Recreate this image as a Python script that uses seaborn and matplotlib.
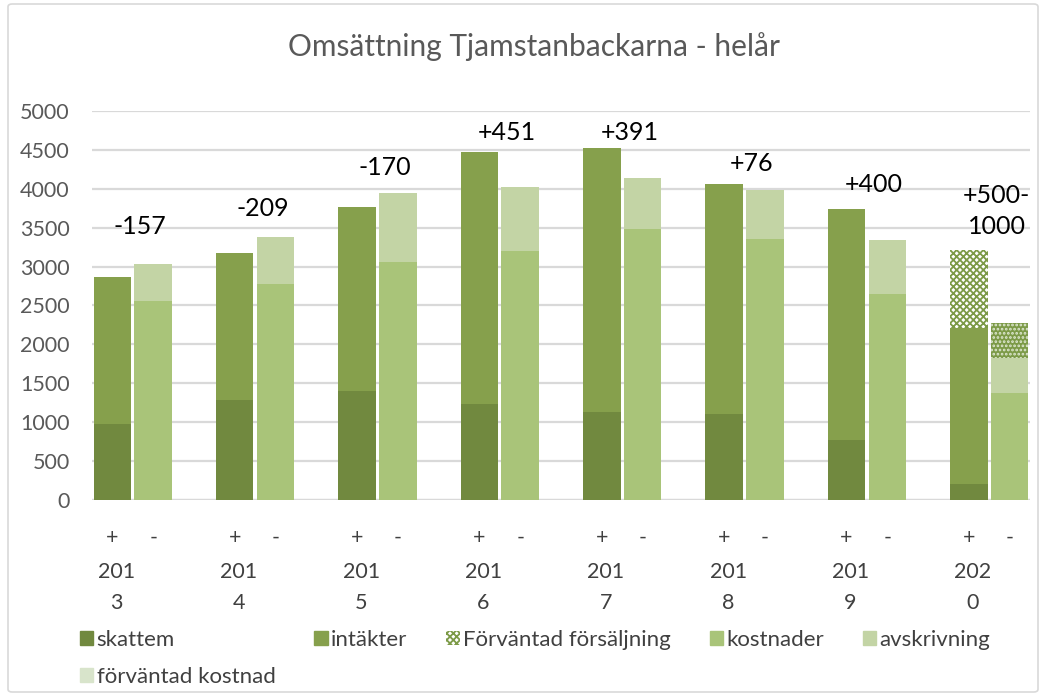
import numpy as np
import pandas as pd
import matplotlib.pyplot as plt
import matplotlib.patches as mpatches
import seaborn as sns

years = ["2013", "2014", "2015", "2016", "2017", "2018", "2019", "2020"]
skattem = [975, 1285, 1400, 1235, 1130, 1105, 770, 205]
intakter = [1895, 1895, 2370, 3240, 3395, 2955, 2970, 2010]
forv_forsaljning = [0, 0, 0, 0, 0, 0, 0, 1000]
kostnader = [2560, 2775, 3060, 3200, 3485, 3355, 2650, 1370]
avskrivning = [470, 610, 880, 820, 655, 630, 690, 460]
forv_kostnad = [0, 0, 0, 0, 0, 0, 0, 450]
result_labels = ["-157", "-209", "-170", "+451", "+391", "+76", "+400", "+500-\n1000"]
label_level = [3520, 3750, 4270, 4720, 4720, 4330, 4060, 3715]

c_skattem = "#71893f"
c_intakter = "#86a04c"
c_kostnader = "#a9c479"
c_avskr = "#c3d4a5"
c_forv_k = "#d8e4cb"
c_hatch = "#7c9a47"

sns.set_theme(style="white")
plt.rcParams["font.family"] = ["Lato", "DejaVu Sans"]
plt.rcParams["hatch.linewidth"] = 1.3

# slots: +, -, blank per year (no blank after last)
slots = []
for i, y in enumerate(years):
    slots += [y + "+", y + "-"]
    if i < len(years) - 1:
        slots.append("gap" + y)

df = pd.DataFrame({
    "year": years,
    "skattem": skattem,
    "intakter": intakter,
    "forv_f": forv_forsaljning,
    "kostnader": kostnader,
    "avskr": avskrivning,
    "forv_k": forv_kostnad,
})
df["plus_slot"] = df["year"] + "+"
df["minus_slot"] = df["year"] + "-"
df["plus_base"] = df["skattem"] + df["intakter"]
df["plus_total"] = df["plus_base"] + df["forv_f"]
df["minus_base"] = df["kostnader"] + df["avskr"]
df["minus_total"] = df["minus_base"] + df["forv_k"]

fig = plt.figure(figsize=(10.45, 6.95), dpi=100)
ax = fig.add_axes([92 / 1045, 1 - 500 / 695, (1030 - 92) / 1045, (500 - 111) / 695])

w = 0.92
kw = dict(order=slots, width=w, saturation=1, errorbar=None, ax=ax)

# plus bars, tallest layer first
fut = df[df["forv_f"] > 0]
sns.barplot(data=fut, x="plus_slot", y="plus_total", color="white",
            edgecolor=c_hatch, hatch="xxxxx", linewidth=0, **kw)
sns.barplot(data=df, x="plus_slot", y="plus_base", color=c_intakter, linewidth=0, **kw)
sns.barplot(data=df, x="plus_slot", y="skattem", color=c_skattem, linewidth=0, **kw)

# minus bars
futk = df[df["forv_k"] > 0]
sns.barplot(data=futk, x="minus_slot", y="minus_total", color=c_hatch,
            edgecolor="#dfe8d2", hatch="....", linewidth=0, **kw)
sns.barplot(data=df, x="minus_slot", y="minus_base", color=c_avskr, linewidth=0, **kw)
sns.barplot(data=df, x="minus_slot", y="kostnader", color=c_kostnader, linewidth=0, **kw)

ax.set_xlim(-0.5, len(slots) - 0.5)
ax.set_ylim(0, 5000)
ax.set_yticks(range(0, 5001, 500))
ax.tick_params(axis="y", labelsize=15.5, labelcolor="#595959", length=0, pad=16)
ax.grid(axis="y", color="#d9d9d9", linewidth=1.6)
ax.set_axisbelow(True)
for s in ax.spines.values():
    s.set_visible(False)
ax.axhline(0, color="#d9d9d9", linewidth=1.6, zorder=0)

xt = [s[-1] if s[-1] in "+-" else "" for s in slots]
ax.set_xticks(range(len(slots)))
ax.set_xticklabels(xt)
ax.tick_params(axis="x", labelsize=15.5, labelcolor="#404040", length=0, pad=20)
ax.set_xlabel("")
ax.set_ylabel("")

for i, y in enumerate(years):
    pos = slots.index(y + "+")
    ax.text(pos + 0.1, -0.16, y[:3] + "\n" + y[3:], transform=ax.get_xaxis_transform(),
            ha="center", va="top", fontsize=15.5, color="#404040", linespacing=1.65)
    ax.text(pos + 0.68, label_level[i], result_labels[i], ha="center", va="center",
            fontsize=18, color="black", linespacing=1.45)

fig.text(534 / 1045, 1 - 47 / 695, "Omsättning Tjamstanbackarna - helår",
         ha="center", va="center", fontsize=21.5, color="#595959")

handles = [
    mpatches.Patch(color=c_skattem, label="skattem"),
    mpatches.Patch(color=c_forv_k, label="förväntad kostnad"),
    mpatches.Patch(color=c_intakter, label="intäkter"),
    mpatches.Patch(facecolor="white", edgecolor=c_hatch, hatch="xxxxx", linewidth=0,
                   label="Förväntad försäljning"),
    mpatches.Patch(color=c_kostnader, label="kostnader"),
    mpatches.Patch(color=c_avskr, label="avskrivning"),
]
fig.legend(handles=handles, ncol=5, loc="upper left", bbox_to_anchor=(80 / 1045, 1 - 630 / 695),
           frameon=False, fontsize=16, labelcolor="#404040", handlelength=0.6,
           handleheight=0.6, handletextpad=0.15, columnspacing=1.75, labelspacing=0.75,
           borderaxespad=0, borderpad=0)

border = mpatches.FancyBboxPatch((8 / 1045, 3 / 695), 1030 / 1045, 688 / 695,
                                 boxstyle="round,pad=0,rounding_size=0.004",
                                 transform=fig.transFigure, fill=False,
                                 edgecolor="#d9d9d9", linewidth=1.2)
fig.patches.append(border)

fig.savefig("out.png", dpi=100)
